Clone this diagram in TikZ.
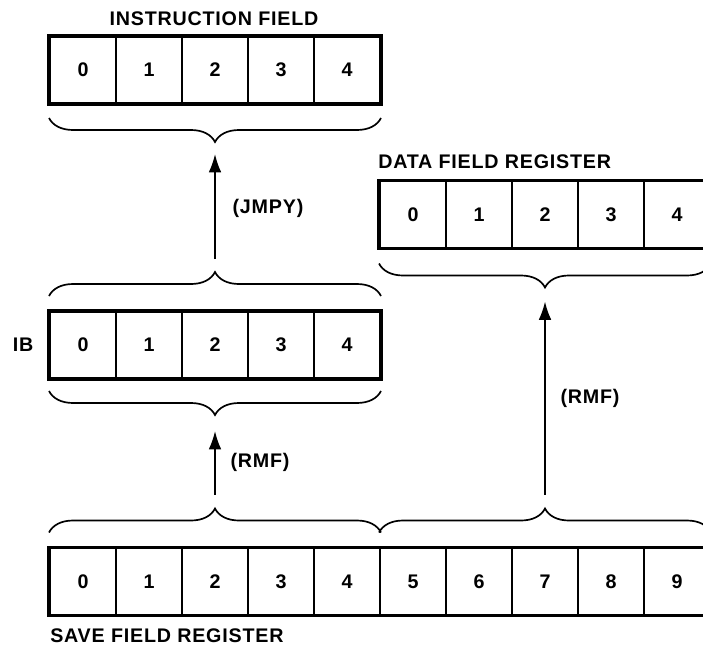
\documentclass[tikz,border=0pt]{standalone}
\usepackage{fontspec}
\setmainfont{Liberation Sans}[LetterSpace=4]
\usetikzlibrary{arrows.meta,calc,decorations.pathreplacing}
\begin{document}
\begin{tikzpicture}[x=0.025cm, y=-0.025cm, >={Latex[length=13pt,width=9pt]},
  font=\fontsize{14}{16}\selectfont\bfseries,
  cell/.style={draw, line width=1.4pt, minimum width=1.65cm, minimum height=1.65cm, inner sep=0pt},
  frame/.style={line width=2.6pt},
  brc/.style={decorate, decoration={brace, amplitude=0.6cm}, line width=1.2pt},
  lab/.style={inner sep=0pt}]
\useasboundingbox (0,0) rectangle (703,645);
% registers
\foreach \i in {0,...,4}
{
    \node[cell] (in\i) at (83+66*\i, 70) {\i};
    \node[cell] (ib\i) at (83+66*\i, 345) {\i};
    \node[cell] (df\i) at (413+66*\i, 214.5) {\i};
}
\foreach \i in {0,...,9}
    \node[cell] (sf\i) at (83+66*\i, 581.5) {\i};
\draw[frame] (in0.north west) rectangle (in4.south east);
\draw[frame] (ib0.north west) rectangle (ib4.south east);
\draw[frame] (df0.north west) rectangle (df4.south east);
\draw[frame] (sf0.north west) rectangle (sf9.south east);
% braces
\draw[brc] ($(in4.south east)+(0,14)$) -- ($(in0.south west)+(0,14)$);
\draw[brc] ($(ib0.north west)+(0,-15)$) -- ($(ib4.north east)+(0,-15)$);
\draw[brc] ($(ib4.south east)+(0,12)$) -- ($(ib0.south west)+(0,12)$);
\draw[brc] ($(df4.south east)+(0,15)$) -- ($(df0.south west)+(0,15)$);
\draw[brc] ($(sf0.north west)+(0,-15)$) -- ($(sf4.north east)+(0,-15)$);
\draw[brc] ($(sf5.north west)+(0,-15)$) -- ($(sf9.north east)+(0,-15)$);
% transfers
\coordinate (jmpFrom) at ($(ib2.north)+(0,-52)$);
\coordinate (jmpTo) at ($(in2.south)+(0,50)$);
\coordinate (rmfFrom) at ($(sf2.north)+(0,-53)$);
\coordinate (rmfTo) at ($(ib2.south)+(0,52)$);
\coordinate (dfFrom) at ($(sf7.north)+(0,-53)$);
\coordinate (dfTo) at ($(df2.south)+(0,53)$);
\draw[->, line width=1.3pt] (jmpFrom) -- (jmpTo);
\draw[->, line width=1.3pt] (rmfFrom) -- (rmfTo);
\draw[->, line width=1.3pt] (dfFrom) -- (dfTo);
% labels
\node[lab] (inLab) at (214,19) {INSTRUCTION FIELD};
\node[lab, anchor=west] (dfLab) at (378,162) {DATA FIELD REGISTER};
\node[lab] (ibLab) at (23,345) {IB};
\node[lab] (jmpLab) at (268,208) {(JMPY)};
\node[lab] (rmfLabA) at (260,462) {(RMF)};
\node[lab] (rmfLabB) at (590,398) {(RMF)};
\node[lab, anchor=west] (sfLab) at (50,636) {SAVE FIELD REGISTER};
\end{tikzpicture}
\end{document}
